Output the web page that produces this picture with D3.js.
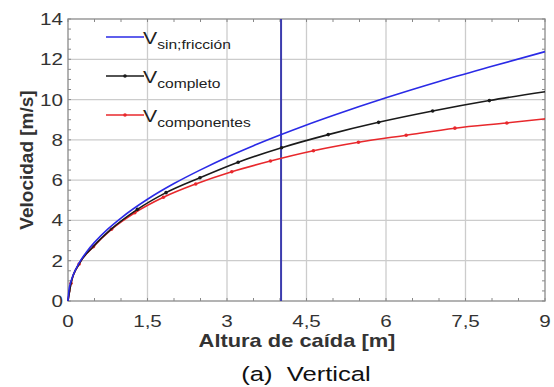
<!DOCTYPE html>
<html>
<head>
<meta charset="utf-8">
<script src="https://cdn.jsdelivr.net/npm/d3@7"></script>
<style>
  body { margin: 0; background: #fff; }
  text { font-family: "Liberation Sans", Arial, sans-serif; }
</style>
</head>
<body>
<svg id="chart" width="554" height="387"></svg>
<script>
// values
const hBlue = [0, 0.02, 0.05, 0.1, 0.2, 0.35, 0.5, 0.75, 1, 1.5, 2, 2.5, 3, 3.5, 4, 4.5, 5, 6, 7, 8, 9];
const vBlue = [0, 0.58, 0.92, 1.3, 1.84, 2.44, 2.91, 3.57, 4.12, 5.05, 5.83, 6.51, 7.14, 7.71, 8.24, 8.74, 9.21, 10.09, 10.9, 11.65, 12.38];

const hComp = [0, 0.057, 0.21, 0.48, 0.82, 1.31, 1.85, 2.49, 3.21, 4.03, 4.91, 5.86, 6.88, 7.95, 9];
const vComp = [0, 0.88, 1.84, 2.71, 3.58, 4.55, 5.38, 6.12, 6.89, 7.61, 8.26, 8.87, 9.43, 9.95, 10.39];

const hRed = [0, 0.057, 0.21, 0.48, 0.82, 1.26, 1.8, 2.41, 3.09, 3.82, 4.63, 5.48, 6.38, 7.3, 8.28, 9];
const vRed = [0, 0.88, 1.84, 2.7, 3.56, 4.38, 5.15, 5.81, 6.42, 6.95, 7.46, 7.88, 8.23, 8.58, 8.84, 9.04];

const xTicks = [0, 1.5, 3, 4.5, 6, 7.5, 9];
const yTicks = [0, 2, 4, 6, 8, 10, 12, 14];
const hLine = 4.02;

const seriesNames = ["sin;fricción", "completo", "componentes"];
const colors = ["#2a2ae6", "#1a1a1a", "#e8282c"];

const svg = d3.select("#chart");
const pl = 68, pr = 545, pt = 19, pb = 301;
const sx = 1.25; // the original picture is a bit stretched sideways

const x = d3.scaleLinear().domain([0, 9]).range([pl, pr]);
const y = d3.scaleLinear().domain([0, 14]).range([pb, pt]);

const g = svg.append("g");

// grid
g.selectAll(".gx").data(xTicks.slice(1, -1)).enter().append("line")
  .attr("x1", d => x(d)).attr("x2", d => x(d))
  .attr("y1", pt).attr("y2", pb)
  .attr("stroke", "#cccccc").attr("stroke-width", 1.3);
g.selectAll(".gy").data(yTicks.slice(1, -1)).enter().append("line")
  .attr("y1", d => y(d)).attr("y2", d => y(d))
  .attr("x1", pl).attr("x2", pr)
  .attr("stroke", "#cccccc").attr("stroke-width", 1.3);

// minor ticks, inward on all four sides
const xMinor = d3.range(0, 9.01, 0.5);
const yMinor = d3.range(0, 14.01, 0.5);
xMinor.forEach(d => {
  g.append("line").attr("x1", x(d)).attr("x2", x(d)).attr("y1", pb).attr("y2", pb - 3)
    .attr("stroke", "#888");
  g.append("line").attr("x1", x(d)).attr("x2", x(d)).attr("y1", pt).attr("y2", pt + 3)
    .attr("stroke", "#888");
});
yMinor.forEach(d => {
  g.append("line").attr("y1", y(d)).attr("y2", y(d)).attr("x1", pl).attr("x2", pl + 3)
    .attr("stroke", "#888");
  g.append("line").attr("y1", y(d)).attr("y2", y(d)).attr("x1", pr).attr("x2", pr - 3)
    .attr("stroke", "#888");
});

// frame
g.append("rect").attr("x", pl).attr("y", pt)
  .attr("width", pr - pl).attr("height", pb - pt)
  .attr("fill", "none").attr("stroke", "#8a8a8a").attr("stroke-width", 1.3);

// tick labels
g.selectAll(".xl").data(xTicks).enter().append("text")
  .attr("transform", d => "translate(" + x(d) + ",327) scale(" + sx + ",1)")
  .attr("text-anchor", "middle").attr("font-size", 16.5).attr("fill", "#333")
  .text(d => String(d).replace(".", ","));
g.selectAll(".yl").data(yTicks).enter().append("text")
  .attr("transform", d => "translate(63," + (y(d) + 6) + ") scale(" + sx + ",1)")
  .attr("text-anchor", "end").attr("font-size", 16.5).attr("fill", "#333")
  .text(d => d);

// vertical marker line
g.append("line").attr("x1", x(hLine)).attr("x2", x(hLine))
  .attr("y1", pt).attr("y2", pb)
  .attr("stroke", "#3c3cae").attr("stroke-width", 2);

const line = d3.line().x(d => x(d[0])).y(d => y(d[1])).curve(d3.curveMonotoneX);

const blue = d3.zip(hBlue, vBlue);
const comp = d3.zip(hComp, vComp);
const red = d3.zip(hRed, vRed);

g.append("path").datum(red).attr("d", line)
  .attr("fill", "none").attr("stroke", colors[2]).attr("stroke-width", 1.6);
g.selectAll(".mr").data(red.slice(1, -1)).enter().append("circle")
  .attr("cx", d => x(d[0])).attr("cy", d => y(d[1])).attr("r", 1.8).attr("fill", colors[2]);

g.append("path").datum(comp).attr("d", line)
  .attr("fill", "none").attr("stroke", colors[1]).attr("stroke-width", 1.6);
g.selectAll(".mc").data(comp.slice(5, -1)).enter().append("circle")
  .attr("cx", d => x(d[0])).attr("cy", d => y(d[1])).attr("r", 1.8).attr("fill", colors[1]);

g.append("path").datum(blue).attr("d", line)
  .attr("fill", "none").attr("stroke", colors[0]).attr("stroke-width", 1.6);

// legend
const legend = g.selectAll(".legend").data(seriesNames).enter().append("g")
  .attr("transform", (d, i) => "translate(0," + (37 + i * 39) + ")");
legend.append("line").attr("x1", 106).attr("x2", 144).attr("y1", 0).attr("y2", 0)
  .attr("stroke", (d, i) => colors[i]).attr("stroke-width", 1.6);
legend.filter((d, i) => i > 0).append("circle")
  .attr("cx", 125).attr("cy", 0).attr("r", 1.8).attr("fill", (d, i) => colors[i + 1]);
const lt = legend.append("text")
  .attr("transform", "translate(143,7) scale(" + sx + ",1)").attr("fill", "#222");
lt.append("tspan").attr("font-size", 17).text("V");
lt.append("tspan").attr("font-size", 12.5).attr("dy", 4.5).text(d => d);

// axis titles
svg.append("text").attr("transform", "translate(297,347) scale(" + sx + ",1)")
  .attr("text-anchor", "middle").attr("font-size", 17.5).attr("font-weight", "bold").attr("fill", "#333")
  .text("Altura de caída [m]");
svg.append("text").attr("transform", "translate(33,160) rotate(-90)")
  .attr("text-anchor", "middle").attr("font-size", 19).attr("font-weight", "bold").attr("fill", "#333")
  .text("Velocidad [m/s]");

// caption
svg.append("text").attr("transform", "translate(306,381) scale(" + sx + ",1)")
  .attr("text-anchor", "middle").attr("font-size", 20.5).attr("fill", "#111")
  .attr("xml:space", "preserve")
  .text("(a)  Vertical");
</script>
</body>
</html>
